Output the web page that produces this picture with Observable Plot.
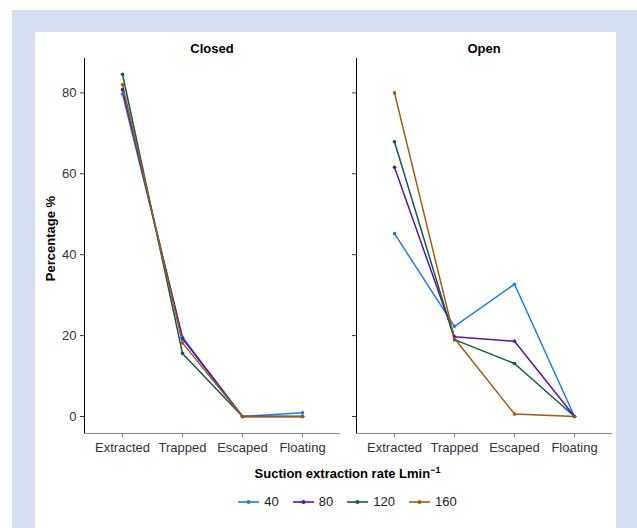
<!DOCTYPE html>
<html>
<head>
<meta charset="utf-8">
<script src="https://cdn.jsdelivr.net/npm/d3@7"></script>
<script src="https://cdn.jsdelivr.net/npm/@observablehq/plot@0.6"></script>
<style>
  body { margin: 0; background: #ffffff; font-family: "Liberation Sans", Arial, sans-serif; }
  #page { position: relative; width: 637px; height: 528px; overflow: hidden; }
  #frame { position: absolute; left: 12px; top: 10px; width: 625px; height: 518px; background: #d5deef; }
  #panel { position: absolute; left: 35px; top: 32px; width: 581px; height: 496px; background: #ffffff; }
  #chart { position: absolute; left: 0; top: 0; }
  #xtitle { position: absolute; left: 84px; width: 527px; top: 465px; text-align: center; font-weight: bold; font-size: 13px; color: #000; }
  #legend { position: absolute; left: 84px; width: 527px; top: 494px; display: flex; justify-content: center; gap: 14px; font-size: 13px; color: #222; }
  .item { display: flex; align-items: center; gap: 5px; }
</style>
</head>
<body>
<div id="page">
  <div id="frame"></div>
  <div id="panel"></div>
  <div id="chart"></div>
  <div id="xtitle">Suction extraction rate Lmin<sup style="font-size:9px">−1</sup></div>
  <div id="legend"></div>
</div>
<script>
const categories = ["Extracted", "Trapped", "Escaped", "Floating"];
const panels = ["Closed", "Open"];
const rates = ["40", "80", "120", "160"];
const colors = ["#1a7fe3", "#5a12a3", "#0e5a52", "#a35a0f"];
const yTicks = [0, 20, 40, 60, 80];

const closed40 = [79.7, 19.6, 0, 0.9];
const closed80 = [80.8, 19.3, 0, 0];
const closed120 = [84.6, 15.6, 0, 0];
const closed160 = [82.0, 18.2, 0, 0];

const open40 = [45.2, 22.3, 32.7, 0];
const open80 = [61.6, 19.7, 18.6, 0];
const open120 = [67.9, 19.0, 13.1, 0];
const open160 = [80.0, 19.3, 0.6, 0];

const seriesByPanel = {
  Closed: [closed40, closed80, closed120, closed160],
  Open: [open40, open80, open120, open160]
};

const data = [];
for (const p of panels) {
  seriesByPanel[p].forEach((vals, i) => {
    vals.forEach((v, j) => data.push({panel: p, rate: rates[i], category: categories[j], value: v}));
  });
}

const font = '"Liberation Sans", Arial, sans-serif';

const chart = Plot.plot({
  width: 637,
  height: 470,
  marginLeft: 84,
  marginRight: 26,
  marginTop: 58,
  marginBottom: 37,
  style: {background: "transparent", fontFamily: font, fontSize: "13px", color: "#333"},
  fx: {domain: panels, paddingInner: 0.0625, paddingOuter: 0, label: null},
  x: {type: "point", domain: categories, padding: 0.6, label: null},
  y: {domain: [-4.2, 88.5], label: null},
  color: {domain: rates, range: colors},
  marks: [
    Plot.frame({anchor: "left", stroke: "#000", strokeWidth: 1}),
    Plot.frame({anchor: "bottom", stroke: "#888", strokeWidth: 1}),
    Plot.axisY({ticks: yTicks, tickSize: 4, tickFormat: () => "", facetAnchor: null, stroke: "#333"}),
    Plot.axisY({ticks: yTicks, tickSize: 0, tickPadding: 8, facetAnchor: "left", fill: "#333", fontSize: 13, label: null}),
    Plot.axisX({tickSize: 4, stroke: "#888", fill: "#333", fontSize: 13, tickPadding: 5, label: null}),
    Plot.axisFx({anchor: "top", tickSize: 0, tickPadding: 6, fontWeight: "bold", fontSize: 13, fill: "#000", label: null}),
    Plot.text([44], {y: (d) => d, text: () => "Percentage %", frameAnchor: "left", dx: -34, rotate: -90, textAnchor: "middle", fontWeight: "bold", fontSize: 13, fill: "#000", facetAnchor: "left"}),
    Plot.line(data, {fx: "panel", x: "category", y: "value", z: "rate", stroke: "rate", strokeWidth: 1.5}),
    Plot.dot(data, {fx: "panel", x: "category", y: "value", fill: "rate", r: 1.8})
  ]
});
document.getElementById("chart").appendChild(chart);

const legend = document.getElementById("legend");
rates.forEach((r, i) => {
  const item = document.createElement("div");
  item.className = "item";
  item.innerHTML = `<svg width="21" height="10"><line x1="0" x2="21" y1="5" y2="5" stroke="${colors[i]}" stroke-width="1.6"/><circle cx="10.5" cy="5" r="2" fill="${colors[i]}"/></svg><span>${r}</span>`;
  legend.appendChild(item);
});
</script>
</body>
</html>
